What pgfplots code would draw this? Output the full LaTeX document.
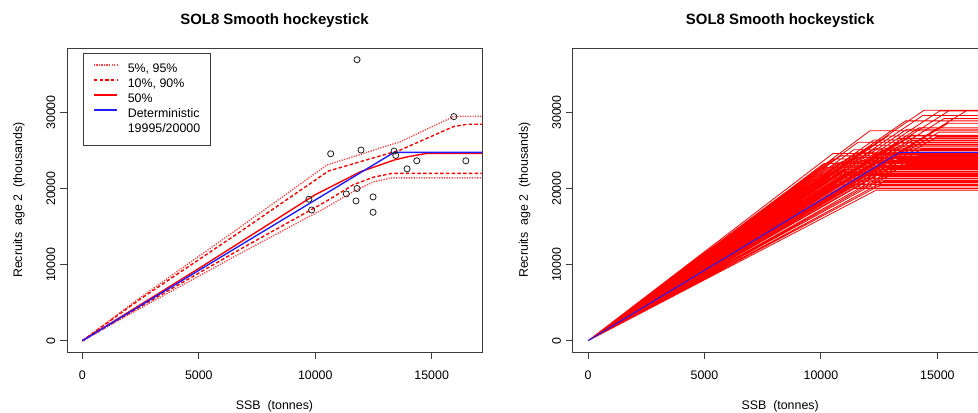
\documentclass[border=0pt]{standalone}
\usepackage{fontspec}
\setmainfont{Liberation Sans}
\usepackage{pgfplots}
\pgfplotsset{compat=1.18}
\definecolor{rred}{RGB}{255,0,0}
\definecolor{rpink}{RGB}{255,70,70}
\definecolor{rblue}{RGB}{30,30,255}
\definecolor{rgray}{RGB}{60,60,60}
\definecolor{mk}{RGB}{30,30,30}
\pgfplotsset{rstyle/.style={
  scale only axis, width=311.25pt, height=228pt,
  xmin=-660, xmax=17160, ymin=-1480, ymax=38480,
  scaled ticks=false,
  axis line style={draw=rgray, line width=0.7pt},
  xtick={0,5000,10000,15000}, xticklabels={0,5000,10000,15000},
  ytick={0,10000,20000,30000}, yticklabels={0,10000,20000,30000},
  xtick pos=bottom, ytick pos=left, tick align=outside,
  major tick length=5.25pt,
  tick style={draw=rgray, line width=0.7pt},
  tick label style={font=\fontsize{9.3}{11}\selectfont},
  xticklabel style={yshift=-5pt},
  yticklabel style={rotate=90, anchor=south},
  every axis title/.style={at={(axis description cs:0.5,1.0888)}, anchor=center, font=\fontsize{11.2}{13}\selectfont\bfseries},
  title={SOL8 Smooth hockeystick},
  xlabel={SSB\ \ (tonnes)},
  ylabel={Recruits\ \ age 2\ \ (thousands)},
  every axis x label/.style={at={(axis description cs:0.5,-0.1776)}, anchor=center, font=\fontsize{9.3}{11}\selectfont},
  every axis y label/.style={at={(axis description cs:-0.1157,0.5)}, rotate=90, anchor=center, font=\fontsize{9.3}{11}\selectfont},
  /pgf/number format/assume math mode=true,
  unbounded coords=jump,
}}
\tikzset{
  q5/.style={draw=#1, line width=1.05pt, dash pattern=on 0.9pt off 1pt},
  q10/.style={draw=#1, line width=1.05pt, dash pattern=on 2.6pt off 1.7pt},
  q50/.style={draw=#1, line width=1.05pt},
}
\begin{document}
\begin{tikzpicture}
% ---------------- Left panel ----------------
\begin{axis}[rstyle, at={(50.25pt,45pt)}, anchor=south west,
  legend style={at={(axis description cs:0.0378,0.9845)}, anchor=north west,
    draw=rgray, line width=0.6pt, fill=white,
    font=\fontsize{9.3}{11}\selectfont,
    inner xsep=7.5pt, inner ysep=7pt,
    nodes={inner sep=0pt, text height=7.5pt, text depth=2.5pt},
    row sep=1.25pt, column sep=7.5pt},
  legend cell align=left,
]
% observations
\addplot[only marks, mark=o, mark size=2.3pt, mark options={draw=mk, line width=0.6pt}, forget plot] coordinates {
(11793,36939) (10662,24578) (11965,25066) (13384,24934) (13456,24367)
(14359,23654) (16466,23654) (13943,22599) (15950,29463) (9729,18602)
(9845,17190) (11333,19301) (11793,20013) (11750,18377) (12481,18905)
(12481,16887)
};
% 95%
\addplot[q5=rpink, forget plot] coordinates {
(0,0) (2500,5700) (6763,14900) (10500,23100) (13650,26160) (15933,29463) (16300,29500) (17500,29500)
};
% 5%
\addplot[q5=rpink, forget plot] coordinates {
(0,0) (2500,4300) (6763,11450) (10400,17400) (11634,19600) (12500,20900) (13285,21412) (17500,21412)
};
% 90%
\addplot[q10=rred, forget plot] coordinates {
(0,0) (2500,5500) (6763,14300) (10560,22300) (13650,25066) (15933,28144) (16509,28452) (17500,28452)
};
% 10%
\addplot[q10=rred, forget plot] coordinates {
(0,0) (2500,4500) (6763,12000) (10400,18200) (11634,20500) (12500,21500) (13285,21992) (17500,21992)
};
% 50%
\addplot[q50=rred, forget plot] coordinates {
(0,0) (5000,9500) (10000,19200) (11930,22200) (13384,23750) (14000,24200) (14800,24630) (17500,24630)
};
% deterministic
\addplot[q50=rblue, forget plot] coordinates {
(0,0) (13384,24758) (17500,24758)
};
\addlegendimage{legend image code/.code={\draw[q5=rpink] (0pt,3.1pt) -- (17.5pt,3.1pt);}}
\addlegendentry{5\%, 95\%}
\addlegendimage{legend image code/.code={\draw[q10=rred] (0pt,3.1pt) -- (17.5pt,3.1pt);}}
\addlegendentry{10\%, 90\%}
\addlegendimage{legend image code/.code={\draw[q50=rred] (0pt,3.1pt) -- (17.5pt,3.1pt);}}
\addlegendentry{50\%}
\addlegendimage{legend image code/.code={\draw[q50=rblue] (0pt,3.1pt) -- (17.5pt,3.1pt);}}
\addlegendentry{Deterministic}
\addlegendimage{legend image code/.code={\path[draw=none] (0pt,3.1pt) -- (17.5pt,3.1pt);}}
\addlegendentry{19995/20000}
\end{axis}
% ---------------- Right panel ----------------
\begin{axis}[rstyle, at={(429.5pt,45pt)}, anchor=south west]
\addplot[draw=rred, line width=0.6pt] coordinates {
(0,0) (12375,19800) (17500,19800) (0,nan)
(0,0) (12515,20400) (17500,20400) (0,nan)
(0,0) (12727,21000) (17500,21000) (0,nan)
(0,0) (13095,22000) (17500,22000) (0,nan)
(0,0) (12235,20800) (17500,20800) (0,nan)
(0,0) (13647,23200) (17500,23200) (0,nan)
(0,0) (14186,24400) (17500,24400) (0,nan)
(0,0) (12558,21600) (17500,21600) (0,nan)
(0,0) (11429,20000) (17500,20000) (0,nan)
(0,0) (12914,22600) (17500,22600) (0,nan)
(0,0) (14318,25200) (17500,25200) (0,nan)
(0,0) (11966,21300) (17500,21300) (0,nan)
(0,0) (13371,23800) (17500,23800) (0,nan)
(0,0) (14972,26800) (17500,26800) (0,nan)
(0,0) (11444,20600) (17500,20600) (0,nan)
(0,0) (12652,22900) (17500,22900) (0,nan)
(0,0) (15055,27400) (17500,27400) (0,nan)
(0,0) (13224,24200) (17500,24200) (0,nan)
(0,0) (11902,21900) (17500,21900) (0,nan)
(0,0) (14022,25800) (17500,25800) (0,nan)
(0,0) (15459,28600) (17500,28600) (0,nan)
(0,0) (12419,23100) (17500,23100) (0,nan)
(0,0) (10860,20200) (17500,20200) (0,nan)
(0,0) (16290,30300) (17500,30300) (0,nan)
(0,0) (11862,22300) (17500,22300) (0,nan)
(0,0) (13191,24800) (17500,24800) (0,nan)
(0,0) (13915,26300) (17500,26300) (0,nan)
(0,0) (11105,21100) (17500,21100) (0,nan)
(0,0) (12368,23500) (17500,23500) (0,nan)
(0,0) (15288,29200) (17500,29200) (0,nan)
(0,0) (13281,25500) (17500,25500) (0,nan)
(0,0) (11823,22700) (17500,22700) (0,nan)
(0,0) (10622,20500) (17500,20500) (0,nan)
(0,0) (13918,27000) (17500,27000) (0,nan)
(0,0) (12371,24000) (17500,24000) (0,nan)
(0,0) (15538,30300) (17500,30300) (0,nan)
(0,0) (11128,21700) (17500,21700) (0,nan)
(0,0) (13265,26000) (17500,26000) (0,nan)
(0,0) (11827,23300) (17500,23300) (0,nan)
(0,0) (14213,28000) (17500,28000) (0,nan)
(0,0) (12626,25000) (17500,25000) (0,nan)
(0,0) (11055,22000) (17500,22000) (0,nan)
(0,0) (15100,30200) (17500,30200) (0,nan)
(0,0) (12250,24500) (17500,24500) (0,nan)
(0,0) (13300,26600) (17500,26600) (0,nan)
(0,0) (10450,20900) (17500,20900) (0,nan)
(0,0) (11733,23700) (17500,23700) (0,nan)
(0,0) (13695,27800) (17500,27800) (0,nan)
(0,0) (11029,22500) (17500,22500) (0,nan)
(0,0) (12341,25300) (17500,25300) (0,nan)
(0,0) (14369,29600) (17500,29600) (0,nan)
(0,0) (10338,21400) (17500,21400) (0,nan)
(0,0) (11587,24100) (17500,24100) (0,nan)
(0,0) (12871,26900) (17500,26900) (0,nan)
(0,0) (10952,23000) (17500,23000) (0,nan)
(0,0) (12180,25700) (17500,25700) (0,nan)
(0,0) (13632,28900) (17500,28900) (0,nan)
(0,0) (10423,22200) (17500,22200) (0,nan)
(0,0) (11542,24700) (17500,24700) (0,nan)
(0,0) (12279,26400) (17500,26400) (0,nan)
(0,0) (10926,23600) (17500,23600) (0,nan)
(0,0) (14429,30300) (17500,30300) (0,nan)
(0,0) (10734,23400) (17500,23400) (0,nan)
(0,0) (11409,25100) (17500,25100) (0,nan)
(0,0) (10270,22800) (17500,22800) (0,nan)
(0,0) (10848,24300) (17500,24300) (0,nan)
(0,0) (11600,26100) (17500,26100) (0,nan)
(0,0) (10529,23900) (17500,23900) (0,nan)
(0,0) (10513,24600) (17500,24600) (0,nan)
(0,0) (10130,23300) (17500,23300) (0,nan)
(0,0) (12105,27600) (17500,27600) (0,nan)
(0,0) (9909,21800) (17500,21800)
};
\addplot[draw=rblue, line width=0.75pt] coordinates {
(0,0) (13384,24758) (17500,24758)
};
\end{axis}
\pgfresetboundingbox
\path[use as bounding box] (0,0) rectangle (733.5pt,309pt);
\end{tikzpicture}
\end{document}
